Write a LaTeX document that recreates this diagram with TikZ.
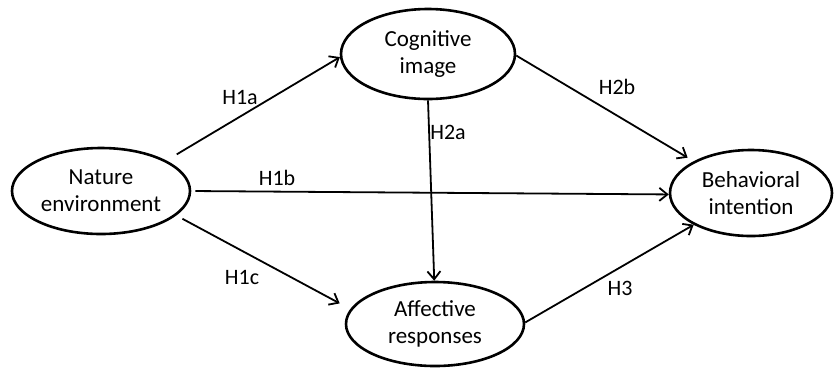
\documentclass[tikz,border=0pt]{standalone}
\usepackage{fontspec}
\setmainfont{Carlito}
\usetikzlibrary{shapes.geometric,arrows.meta}
\begin{document}
\begin{tikzpicture}[x=1pt,y=-1pt,
  construct/.style={ellipse,draw,line width=2.6pt,inner sep=0pt,align=center,
    font=\fontsize{23}{27}\selectfont},
  link/.style={line width=1.8pt,-{Straight Barb[length=8pt,width=13pt,line width=1.8pt]}},
  hyp/.style={font=\fontsize{22}{26}\selectfont,inner sep=0pt}]
\useasboundingbox (0,0) rectangle (834,368);
\node[construct,minimum width=178pt,minimum height=86pt] (nat) at (101,191) {Nature\\environment};
\node[construct,minimum width=174pt,minimum height=90pt] (cog) at (428,54) {Cognitive\\image};
\node[construct,minimum width=162pt,minimum height=86pt] (beh) at (751,193) {Behavioral\\intention};
\node[construct,minimum width=178pt,minimum height=84pt] (aff) at (435,324) {Affective\\responses};

\draw[link,shorten <=12pt] (nat.25.6) -- (cog.182);
\draw[link,shorten <=4pt] (nat.0.6) -- (beh.181.4);
\draw[link,shorten <=7pt,shorten >=12pt] (nat.-18.4) -- (aff.170);
\draw[link,shorten >=7pt] (cog.-1) -- (beh.151);
\draw[link] (cog.270) -- (aff.91);
\draw[link] (aff.1) -- (beh.209.7);

\node[hyp] (h1a) at (240,97) {H1a};
\node[hyp] (h1b) at (277,178) {H1b};
\node[hyp] (h1c) at (242,277) {H1c};
\node[hyp] (h2a) at (448,132) {H2a};
\node[hyp] (h2b) at (617,87) {H2b};
\node[hyp] (h3) at (620,288) {H3};
\end{tikzpicture}
\end{document}
